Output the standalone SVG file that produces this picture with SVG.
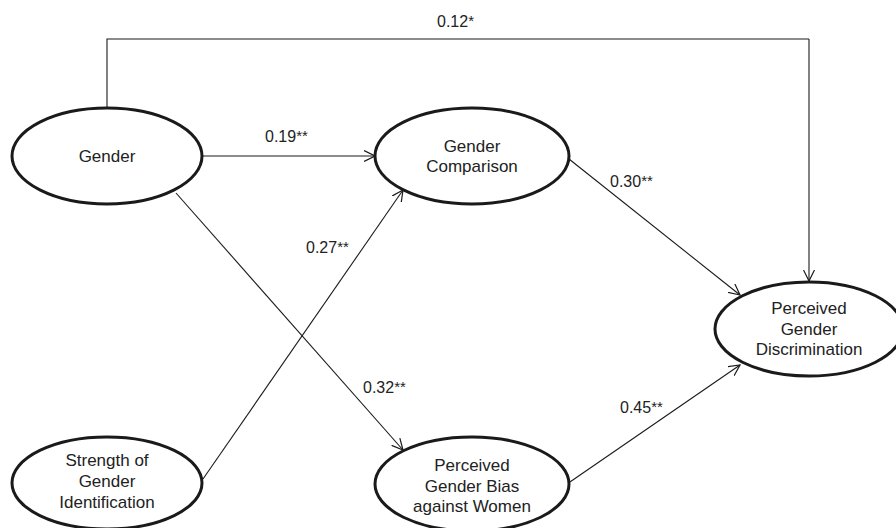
<svg xmlns="http://www.w3.org/2000/svg" width="896" height="528" viewBox="0 0 896 528">
  <style>
    .node ellipse { fill: #fff; stroke: #1a1a1a; stroke-width: 3; }
    .node text { font-family: "Liberation Sans", Arial, sans-serif; font-size: 17px; fill: #222; text-anchor: middle; }
    .edge { fill: none; stroke: #1a1a1a; stroke-width: 1.1; }
    .coef { font-family: "Liberation Sans", Arial, sans-serif; font-size: 16px; fill: #222; }
    .coef tspan.sig { font-size: 15px; }
  </style>
  <defs>
    <marker id="arrow" viewBox="0 0 12 12" refX="11" refY="6" markerWidth="12" markerHeight="12" markerUnits="userSpaceOnUse" orient="auto">
      <path d="M0,0.5 L11,6 L0,11.5" fill="none" stroke="#1a1a1a" stroke-width="1.2"/>
    </marker>
  </defs>
  <rect width="896" height="528" fill="#fff"/>

  <g id="connectors">
    <path class="edge" d="M107,108 V39 H809" stroke-width="2.2"/>
    <path class="edge" d="M809,39 V281" stroke-width="1.5" marker-end="url(#arrow)"/>
    <path class="edge" d="M202,156 H375" marker-end="url(#arrow)"/>
    <path class="edge" d="M203,479 L403,190" marker-end="url(#arrow)"/>
    <path class="edge" d="M176,193 L403,450" marker-end="url(#arrow)"/>
    <path class="edge" d="M569,159 L740,295" marker-end="url(#arrow)"/>
    <path class="edge" d="M567,484 L740,365" marker-end="url(#arrow)"/>
  </g>

  <g id="labels">
    <text class="coef" x="437" y="27">0.12<tspan class="sig" dy="-1">*</tspan></text>
    <text class="coef" x="265" y="142">0.19<tspan class="sig" dy="-1">**</tspan></text>
    <text class="coef" x="306" y="253">0.27<tspan class="sig" dy="-1">**</tspan></text>
    <text class="coef" x="610" y="187">0.30<tspan class="sig" dy="-1">**</tspan></text>
    <text class="coef" x="363" y="393">0.32<tspan class="sig" dy="-1">**</tspan></text>
    <text class="coef" x="620" y="413">0.45<tspan class="sig" dy="-1">**</tspan></text>
  </g>

  <g id="gender" class="node">
    <ellipse cx="107" cy="156" rx="95" ry="48"/>
    <text x="107" y="162">Gender</text>
  </g>

  <g id="gender-comparison" class="node">
    <ellipse cx="472" cy="156" rx="97" ry="48"/>
    <text x="472" y="152">Gender</text>
    <text x="472" y="172">Comparison</text>
  </g>

  <g id="perceived-gender-discrimination" class="node">
    <ellipse cx="809" cy="329" rx="94" ry="47"/>
    <text x="809" y="314">Perceived</text>
    <text x="809" y="335">Gender</text>
    <text x="809" y="355">Discrimination</text>
  </g>

  <g id="strength-of-gender-identification" class="node">
    <ellipse cx="107" cy="483" rx="95" ry="46"/>
    <text x="107" y="466">Strength of</text>
    <text x="107" y="487">Gender</text>
    <text x="107" y="508">Identification</text>
  </g>

  <g id="perceived-gender-bias" class="node">
    <ellipse cx="472" cy="484" rx="97" ry="47"/>
    <text x="472" y="471">Perceived</text>
    <text x="472" y="492">Gender Bias</text>
    <text x="472" y="512">against Women</text>
  </g>
</svg>
